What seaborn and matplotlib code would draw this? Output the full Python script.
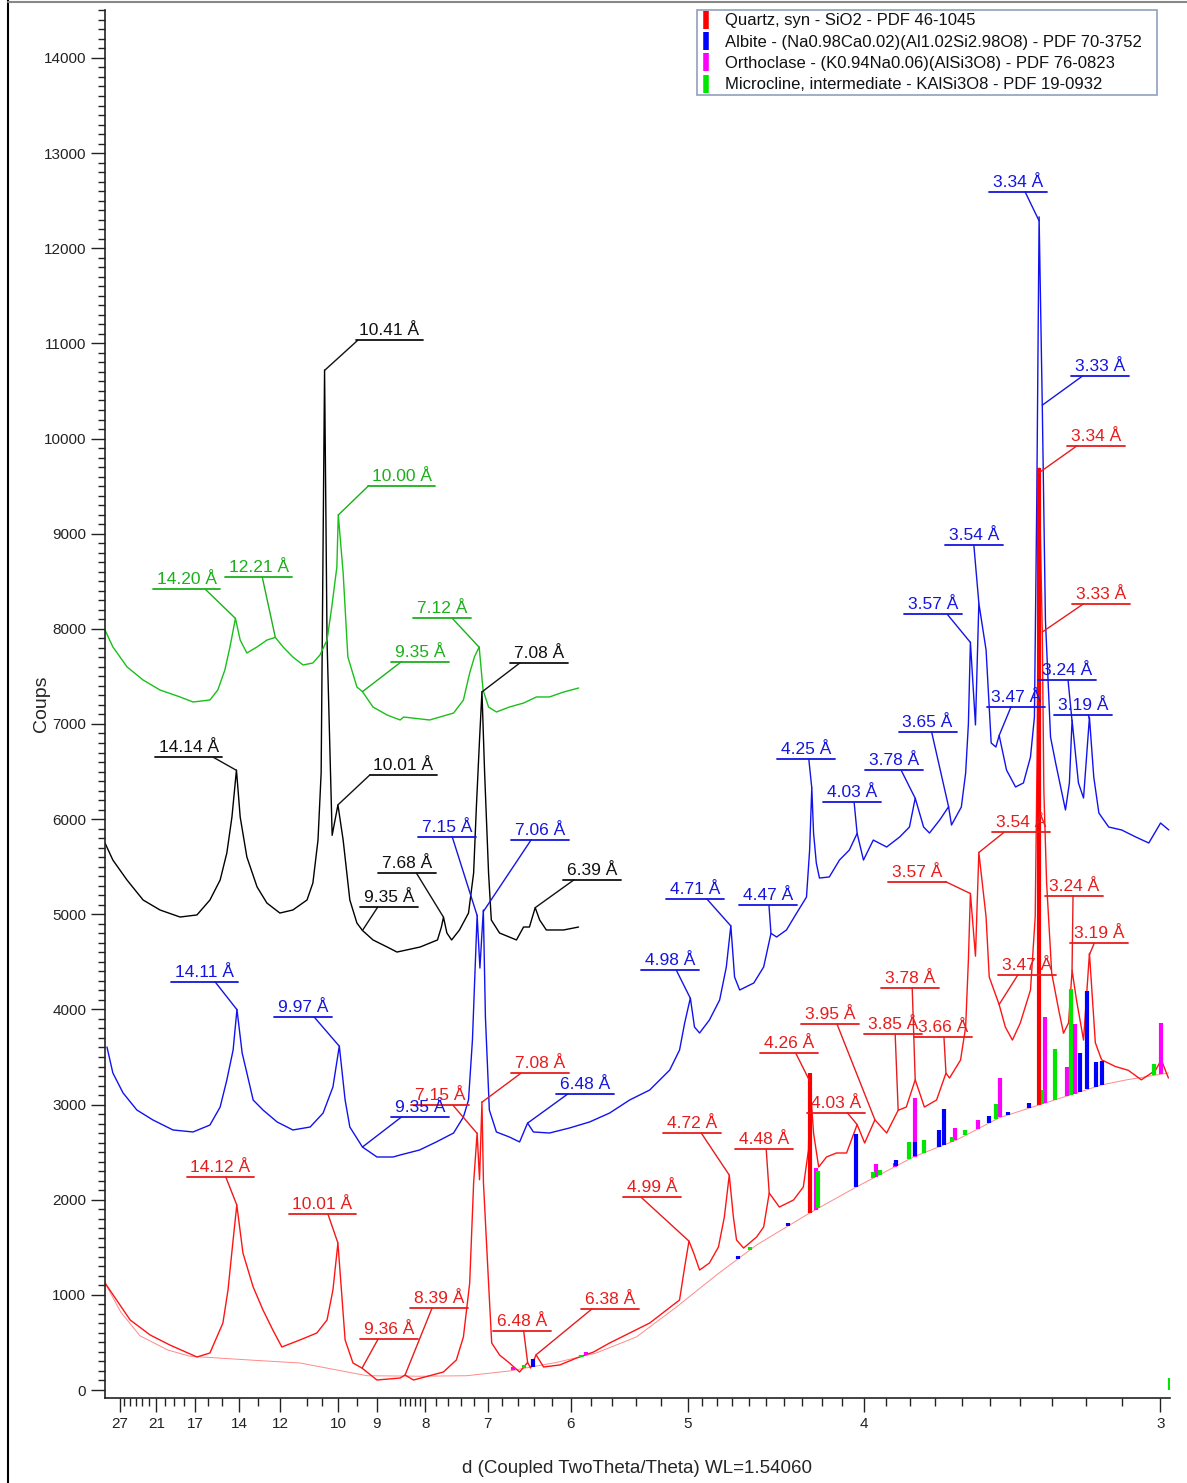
import numpy as np
import matplotlib
matplotlib.use("Agg")
import matplotlib.pyplot as plt
import seaborn as sns
from matplotlib.lines import Line2D
from matplotlib.patches import Rectangle
from matplotlib.ticker import MultipleLocator

WL = 1.54060

red_scan = [
    (2.90, 1125), (3.54, 736), (4.05, 578), (4.55, 473), (5.24, 347), (5.57, 389),
    (5.90, 704), (6.03, 1051), (6.16, 1577), (6.254, 1945), (6.41, 1440), (6.67, 1083),
    (6.92, 841), (7.17, 631), (7.40, 452), (7.86, 526), (8.29, 599), (8.55, 736),
    (8.70, 1051), (8.827, 1545), (9.01, 526), (9.21, 284), (9.441, 230), (9.82, 105),
    (10.41, 126), (10.535, 158), (10.75, 105), (11.51, 189), (11.84, 315), (12.02, 557),
    (12.18, 1125), (12.28, 2176), (12.369, 2700), (12.43, 2210), (12.492, 3030),
    (12.53, 2180), (12.66, 1125), (12.74, 494), (12.94, 368), (13.19, 284), (13.45, 189),
    (13.653, 290), (13.73, 231), (13.869, 370), (14.06, 242), (14.47, 263), (14.90, 336),
    (15.33, 399), (15.74, 494), (16.25, 599), (16.76, 704), (17.19, 841), (17.52, 946),
    (17.65, 1293), (17.760, 1565), (17.88, 1440), (18.03, 1261), (18.28, 1335),
    (18.51, 1503), (18.66, 1818), (18.785, 2260), (18.89, 1818), (18.97, 1577),
    (19.15, 1492), (19.48, 1608), (19.66, 1713), (19.802, 2070), (20.06, 1923),
    (20.42, 1997), (20.67, 2134), (20.80, 2522), (20.836, 3260), (20.93, 2701),
    (21.06, 2344), (21.26, 2449), (21.51, 2491), (21.77, 2491), (22.039, 2790),
    (22.23, 2596), (22.491, 2840), (22.79, 2701), (23.083, 2940), (23.29, 2974),
    (23.517, 3260), (23.75, 2974), (24.06, 3048), (24.299, 3330), (24.39, 3279),
    (24.67, 3468), (24.80, 3815), (24.87, 4519), (24.921, 5220), (25.05, 4560),
    (25.136, 5650), (25.32, 4971), (25.40, 4341), (25.653, 4050), (25.81, 3815),
    (25.99, 3678), (26.19, 3857), (26.45, 4204), (26.57, 4971), (26.62, 6726),
    (26.669, 9690), (26.751, 7940), (26.79, 6300), (26.86, 5330), (26.99, 4380),
    (27.17, 3990), (27.29, 3750), (27.42, 3860), (27.508, 4410), (27.62, 4100),
    (27.80, 3678), (27.950, 4590), (28.10, 3650), (28.26, 3470), (28.61, 3400),
    (28.94, 3360), (29.27, 3260), (29.63, 3360), (29.78, 3470), (29.91, 3330), (29.96, 3280),
]

blue_scan = [
    (2.95, 3605), (3.10, 3332), (3.36, 3122), (3.71, 2943), (4.12, 2838), (4.63, 2733),
    (5.14, 2712), (5.57, 2785), (5.83, 2974), (6.00, 3258), (6.16, 3573), (6.258, 4000),
    (6.39, 3542), (6.51, 3332), (6.67, 3048), (6.92, 2943), (7.28, 2817), (7.68, 2733),
    (8.12, 2764), (8.45, 2911), (8.70, 3185), (8.862, 3615), (9.01, 3048), (9.13, 2764),
    (9.451, 2554), (9.82, 2449), (10.23, 2449), (10.41, 2470), (10.90, 2522),
    (11.33, 2607), (11.77, 2701), (12.02, 2869), (12.15, 3048), (12.25, 3679),
    (12.369, 4990), (12.44, 4435), (12.527, 5045), (12.58, 3920), (12.68, 2943),
    (12.86, 2712), (13.19, 2659), (13.45, 2607), (13.653, 2806), (13.80, 2712),
    (14.21, 2701), (14.72, 2754), (15.23, 2817), (15.74, 2911), (16.25, 3048),
    (16.76, 3153), (17.27, 3363), (17.52, 3573), (17.65, 3857), (17.795, 4120),
    (17.90, 3815), (18.03, 3752), (18.28, 3889), (18.54, 4099), (18.71, 4446),
    (18.825, 4880), (18.92, 4341), (19.05, 4204), (19.41, 4278), (19.66, 4446),
    (19.847, 4800), (19.99, 4761), (20.24, 4835), (20.50, 5013), (20.75, 5181),
    (20.83, 5675), (20.885, 6330), (20.93, 5854), (21.00, 5539), (21.08, 5381),
    (21.33, 5392), (21.59, 5570), (21.84, 5675), (22.039, 5850), (22.20, 5570),
    (22.45, 5780), (22.79, 5707), (23.12, 5812), (23.37, 5917), (23.517, 6220),
    (23.73, 5917), (23.88, 5854), (24.14, 5991), (24.366, 6130), (24.44, 5938),
    (24.69, 6127), (24.80, 6485), (24.87, 7000), (24.921, 7860), (25.05, 6990),
    (25.136, 8270), (25.32, 7777), (25.45, 6800), (25.57, 6758), (25.653, 6880),
    (25.84, 6516), (26.07, 6338), (26.27, 6380), (26.45, 6653), (26.55, 7073),
    (26.61, 9354), (26.669, 12330), (26.751, 10320), (26.83, 8093), (26.96, 6863),
    (27.09, 6590), (27.34, 6096), (27.44, 6380), (27.508, 7040), (27.67, 6380),
    (27.80, 6222), (27.950, 7070), (28.06, 6443), (28.19, 6064), (28.44, 5917),
    (28.77, 5886), (29.13, 5812), (29.46, 5749), (29.76, 5959), (29.97, 5886),
]

black_scan = [
    (2.90, 5749), (3.10, 5570), (3.46, 5360), (3.87, 5150), (4.30, 5045), (4.81, 4971),
    (5.24, 4993), (5.57, 5150), (5.83, 5360), (6.00, 5644), (6.13, 6022), (6.245, 6516),
    (6.34, 6022), (6.51, 5602), (6.77, 5287), (7.02, 5118), (7.35, 5013), (7.68, 5045),
    (8.04, 5150), (8.19, 5329), (8.32, 5780), (8.40, 6485), (8.487, 10720), (8.55, 7880),
    (8.68, 5830), (8.827, 6150), (8.96, 5780), (9.13, 5150), (9.31, 4908), (9.451, 4830),
    (9.72, 4730), (10.08, 4656), (10.33, 4603), (10.92, 4656), (11.36, 4730),
    (11.46, 4866), (11.513, 4970), (11.60, 4803), (11.72, 4730), (11.92, 4835),
    (12.15, 5013), (12.28, 5434), (12.35, 6127), (12.43, 6832), (12.492, 7340),
    (12.56, 6485), (12.66, 5434), (12.73, 4940), (12.94, 4803), (13.37, 4730),
    (13.55, 4866), (13.70, 4866), (13.847, 5070), (13.96, 4940), (14.13, 4835),
    (14.57, 4835), (14.95, 4866),
]

green_scan = [
    (2.90, 7988), (3.10, 7810), (3.46, 7600), (3.87, 7462), (4.30, 7357), (4.81, 7284),
    (5.14, 7231), (5.57, 7252), (5.77, 7357), (5.95, 7567), (6.08, 7810), (6.219, 8110),
    (6.34, 7882), (6.51, 7746), (6.77, 7810), (7.02, 7882), (7.234, 7910), (7.43, 7810),
    (7.68, 7704), (7.94, 7620), (8.19, 7641), (8.37, 7725), (8.55, 7882), (8.67, 8229),
    (8.80, 8650), (8.836, 9200), (8.96, 8587), (9.08, 7704), (9.31, 7389), (9.451, 7340),
    (9.72, 7178), (10.08, 7094), (10.41, 7042), (10.50, 7073), (11.16, 7042),
    (11.77, 7115), (12.02, 7252), (12.18, 7536), (12.30, 7704), (12.421, 7810),
    (12.52, 7357), (12.66, 7178), (12.86, 7126), (13.19, 7178), (13.55, 7220),
    (13.88, 7284), (14.21, 7284), (14.57, 7336), (14.95, 7378),
]

background = [
    (2.90, 1125), (3.30, 820), (3.79, 570), (4.50, 420), (5.06, 355), (6.59, 315),
    (7.86, 284), (9.57, 150), (10.92, 145), (12.10, 150), (13.19, 200), (14.39, 290),
    (15.40, 389), (16.42, 557), (17.44, 872), (18.46, 1209), (19.48, 1524), (20.83, 1860),
    (22.02, 2134), (23.47, 2449), (24.57, 2628), (25.64, 2859), (26.66, 2995),
    (28.26, 3206), (28.87, 3258), (29.96, 3332),
]

# fiches PDF (position 2theta, hauteur au-dessus du fond)
quartz_sticks = [(20.836, 1470), (26.669, 6690)]
albite_sticks = [
    (13.78, 80), (19.02, 30), (20.29, 30), (22.02, 560), (23.04, 60), (23.52, 150),
    (24.11, 180), (24.26, 380), (25.40, 75), (25.89, 25), (26.40, 55), (27.72, 410),
    (27.90, 1040), (28.11, 265), (28.26, 250),
]
orthoclase_sticks = [
    (13.29, 30), (15.15, 30), (20.98, 441), (22.51, 137), (22.99, 42), (23.50, 610),
    (24.54, 126), (25.12, 95), (25.68, 420), (26.83, 904), (27.39, 305), (27.57, 736),
    (29.76, 536),
]
microcline_sticks = [
    (13.57, 30), (15.02, 20), (19.32, 30), (21.05, 389), (22.43, 63), (22.61, 53),
    (23.37, 179), (23.75, 137), (24.46, 53), (24.79, 53), (25.58, 158), (26.75, 147),
    (27.08, 536), (27.49, 1114), (29.60, 116),
]
microcline_edge = [(29.98, 130)]

legend_labels = [
    "Quartz, syn - SiO2 - PDF 46-1045",
    "Albite - (Na0.98Ca0.02)(Al1.02Si2.98O8) - PDF 70-3752",
    "Orthoclase - (K0.94Na0.06)(AlSi3O8) - PDF 76-0823",
    "Microcline, intermediate - KAlSi3O8 - PDF 19-0932",
]

d_major = [27, 21, 17, 14, 12, 10, 9, 8, 7, 6, 5, 4, 3]
d_minor = [26, 25, 24, 23, 22, 20, 19, 18, 16, 15, 13, 11, 10.5, 9.5,
           8.5, 8.4, 8.3, 8.2, 8.1, 7.8, 7.6, 7.4, 7.2, 6.8, 6.6, 6.4, 6.2,
           5.8, 5.6, 5.4, 5.2, 4.9, 4.8, 4.7, 4.6, 4.5, 4.4, 4.3, 4.2, 4.1,
           3.9, 3.8, 3.7, 3.6, 3.5, 3.4, 3.3, 3.2, 3.1]

# étiquettes : (courbe, d en Å, décalage du trait en px, début du soulignement)
peak_labels = [
    ("green", 14.20, -30, 29, -52), ("green", 12.21, -13, 60, -37),
    ("green", 10.00, 30, 29, 0), ("green", 9.35, 39, 30, -10),
    ("green", 7.12, -27, 29, -39),
    ("black", 10.41, 33, 30, -2), ("black", 14.14, -23, 13, -58),
    ("black", 10.01, 32, 30, 0), ("black", 9.35, 15, 23, -17),
    ("black", 7.68, -27, 44, -38), ("black", 7.08, 38, 29, -10),
    ("black", 6.39, 39, 28, -11),
    ("blue", 14.11, -22, 28, -44), ("blue", 9.97, -25, 29, -40),
    ("blue", 9.35, 39, 30, -10), ("blue", 7.15, -25, 79, -34),
    ("blue", 7.06, 48, 72, -20), ("blue", 6.48, 40, 29, -12),
    ("blue", 4.98, -14, 28, -35), ("blue", 4.71, -24, 27, -41),
    ("blue", 4.47, -2, 28, -30), ("blue", 4.25, -3, 29, -32),
    ("blue", 4.03, -3, 31, -31), ("blue", 3.78, -14, 28, -36),
    ("blue", 3.65, -17, 75, -33), ("blue", 3.57, -23, 28, -43),
    ("blue", 3.54, -5, 58, -29), ("blue", 3.47, 12, 29, -24),
    ("blue", 3.34, -14, 29, -36), ("blue", 3.33, 40, 29, -11),
    ("blue", 3.24, -4, 41, -30), ("blue", 3.19, -1, 4, -34),
    ("red", 14.12, -11, 28, -39), ("red", 10.01, -10, 29, -39),
    ("red", 9.36, 16, 29, -18), ("red", 8.39, 27, 67, -22),
    ("red", 7.15, -24, 28, -42), ("red", 7.08, 39, 29, -10),
    ("red", 6.48, -4, 32, -31), ("red", 6.38, 56, 46, -11),
    ("red", 4.99, -48, 44, -18), ("red", 4.72, -28, 42, -38),
    ("red", 4.48, -3, 44, -31), ("red", 4.26, -14, 28, -36),
    ("red", 4.03, -10, 12, -40), ("red", 3.95, -38, 96, -36),
    ("red", 3.85, -3, 76, -31), ("red", 3.78, -3, 92, -31),
    ("red", 3.66, -2, 36, -30), ("red", 3.57, -25, 12, -57),
    ("red", 3.54, 25, 20, -12), ("red", 3.47, 19, 30, -20),
    ("red", 3.34, 38, 27, -10), ("red", 3.33, 41, 28, -11),
    ("red", 3.24, 1, 75, -28), ("red", 3.19, 5, 12, -24),
]


def two_theta(d):
    return 2 * np.degrees(np.arcsin(WL / (2 * np.asarray(d, dtype=float))))


def split(pairs):
    arr = np.array(pairs, dtype=float)
    return arr[:, 0], arr[:, 1]


curve_colors = {"red": "#ff1414", "blue": "#1212f0", "black": "#000000", "green": "#19c019"}
text_colors = {"red": "#e81c1c", "blue": "#1515e0", "black": "#111111", "green": "#1bb01b"}

sns.set_style("ticks")
plt.rcParams["font.family"] = ["Liberation Sans", "DejaVu Sans"]

W, H = 1187, 1483
fig = plt.figure(figsize=(W / 100, H / 100), dpi=100)
ax = fig.add_axes([105 / W, 1 - 1398 / H, 1065 / W, 1388 / H])
ax.set_xlim(2.9, 30.0)
ax.set_ylim(-84, 14504)

curves = {name: split(p) for name, p in
          [("red", red_scan), ("blue", blue_scan), ("black", black_scan), ("green", green_scan)]}

bg_x, bg_y = split(background)
sns.lineplot(x=bg_x, y=bg_y, ax=ax, color="#ff8a8a", lw=0.7, sort=False, estimator=None)

for name in ["red", "blue", "black", "green"]:
    x, y = curves[name]
    sns.lineplot(x=x, y=y, ax=ax, color=curve_colors[name], lw=1.0, sort=False, estimator=None)

# bâtonnets des fiches
for sticks, col in [(orthoclase_sticks, "#ff00ff"), (microcline_sticks, "#00e600"),
                    (albite_sticks, "#0000ff"), (quartz_sticks, "#ff0000")]:
    sx, sh = split(sticks)
    base = np.interp(sx, bg_x, bg_y)
    ax.vlines(sx, base, base + sh, colors=col, lw=3.0, zorder=3)
ex, eh = split(microcline_edge)
ax.vlines(ex, 0, eh, colors="#00e600", lw=1.5, zorder=3)

# étiquettes des pics
to_disp = ax.transData
to_data = ax.transData.inverted()
for name, d, dx, dy, u0 in peak_labels:
    x, y = curves[name]
    px = float(two_theta(d))
    py = float(np.interp(px, x, y))
    a = to_disp.transform((px, py))
    lx, ly = a[0] + dx, a[1] + dy
    width = 67 if d >= 10 else 58
    p_lead = to_data.transform((lx, ly))
    p_u0 = to_data.transform((lx + u0, ly))
    p_u1 = to_data.transform((lx + u0 + width, ly))
    p_txt = to_data.transform((lx + u0 + width / 2, ly + 2))
    c = text_colors[name]
    ax.plot([px, p_lead[0]], [py, p_lead[1]], color=c, lw=1.0, clip_on=False, zorder=4)
    ax.plot([p_u0[0], p_u1[0]], [p_u0[1], p_u1[1]], color=c, lw=1.3, clip_on=False, zorder=4)
    ax.text(p_txt[0], p_txt[1], f"{d:.2f} Å", color=c, fontsize=12.5,
            ha="center", va="bottom", zorder=5)

# axes
ax.set_xticks(two_theta(d_major))
ax.set_xticklabels([str(d) for d in d_major], fontsize=11)
ax.set_xticks(two_theta(d_minor), minor=True)
ax.set_yticks(np.arange(0, 14001, 1000))
ax.set_yticklabels([str(v) for v in range(0, 14001, 1000)], fontsize=11)
ax.yaxis.set_minor_locator(MultipleLocator(100))
ax.tick_params(axis="both", which="major", direction="out", length=10, width=1.0, colors="#222222")
ax.tick_params(axis="both", which="minor", direction="out", length=6, width=1.0, colors="#222222")
ax.tick_params(axis="y", which="minor", length=5)
sns.despine(ax=ax, top=True, right=True)
for s in ["left", "bottom"]:
    ax.spines[s].set_linewidth(1.2)
    ax.spines[s].set_color("#222222")

ax.set_ylabel("Coups", fontsize=14)
ax.yaxis.set_label_coords(-0.052, 0.5)
ax.set_xlabel("d (Coupled TwoTheta/Theta) WL=1.54060", fontsize=13.5)
ax.xaxis.set_label_coords(0.5, -0.045)

# légende : cadre dessiné à part, entrées par fig.legend
fig.add_artist(Rectangle((697 / W, 1 - 95 / H), 460 / W, 85 / H, transform=fig.transFigure,
                         facecolor="white", edgecolor="#8fa0bf", lw=1.2, zorder=4))
handles = [Line2D([], [], marker="|", ls="none", color=c, markersize=13, markeredgewidth=4)
           for c in ["#ff0000", "#0000ff", "#ff00ff", "#00e600"]]
leg = fig.legend(handles, legend_labels, loc="upper left",
                 bbox_to_anchor=(698 / W, 1 - 10 / H), bbox_transform=fig.transFigure,
                 fontsize=12, frameon=False, borderpad=0.2, labelspacing=0.38,
                 handlelength=0.5, handletextpad=0.9, borderaxespad=0)
leg.set_zorder(6)
for t in leg.get_texts():
    t.set_color("#111111")

# cadre de la figure
fig.add_artist(Line2D([8 / W, 8 / W], [0, 1], color="black", lw=1.5, transform=fig.transFigure))
fig.add_artist(Line2D([8 / W, 1], [1 - 2 / H, 1 - 2 / H], color="#888888", lw=1.5,
                      transform=fig.transFigure))

fig.savefig("out.png", dpi=100)
